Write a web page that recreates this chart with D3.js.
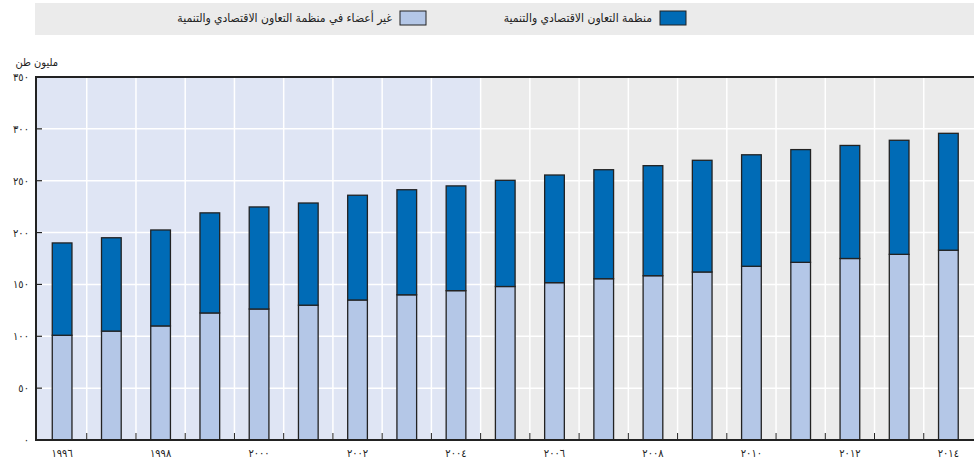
<!DOCTYPE html>
<html>
<head>
<meta charset="utf-8">
<script src="https://cdn.jsdelivr.net/npm/d3@7"></script>
<style>
  body { margin: 0; background: #fff; }
  svg { display: block; font-family: "DejaVu Sans Condensed", "DejaVu Sans", sans-serif; }
</style>
</head>
<body>
<svg id="chart" width="974" height="459"></svg>
<script>
// categories
const years = [1996, 1997, 1998, 1999, 2000, 2001, 2002, 2003, 2004, 2005,
               2006, 2007, 2008, 2009, 2010, 2011, 2012, 2013, 2014];
// non-OECD (lower segment), million tonnes
const nonOecd = [101, 105, 110, 122.5, 126.3, 130, 135, 140, 144, 148,
                 151.7, 155.5, 158.4, 162, 167.5, 171.3, 175, 179, 183];
// OECD (upper segment), million tonnes
const oecd = [89, 90, 92.5, 96.5, 98.4, 98.5, 101, 101.3, 101, 102.4,
              103.8, 105.1, 106.1, 107.7, 107.5, 108.7, 109, 110, 112.7];
const yTicks = [0, 50, 100, 150, 200, 250, 300, 350];
const labelYears = [1996, 1998, 2000, 2002, 2004, 2006, 2008, 2010, 2012, 2014];
const shadedYears = [1996, 2004];

const seriesNames = ["منظمة التعاون الاقتصادي والتنمية", "غير أعضاء في منظمة التعاون الاقتصادي والتنمية"];
const unitLabel = "مليون طن";

const arabicDigits = "٠١٢٣٤٥٦٧٨٩";
const toArabic = s => String(s).replace(/[0-9]/g, c => arabicDigits[+c]);

const svg = d3.select("#chart");
const margin = {left: 36, right: 0, top: 77, bottom: 440};

const x = d3.scaleBand()
    .domain(years)
    .range([37.5, 973])
    .paddingInner(0.6)
    .paddingOuter(0.3);

const y = d3.scaleLinear()
    .domain([0, 350])
    .range([440, 77]);

const step = x.step();
const bandStart = d => x(d) - (step - x.bandwidth()) / 2;

// background panels
svg.append("rect")
    .attr("x", margin.left).attr("y", 77)
    .attr("width", 974 - margin.left).attr("height", 440 - 77)
    .attr("fill", "#ebebeb");
svg.append("rect")
    .attr("x", margin.left).attr("y", 77)
    .attr("width", bandStart(shadedYears[1]) + step - margin.left)
    .attr("height", 440 - 77)
    .attr("fill", "#dfe5f4");

// grid
svg.append("g").selectAll("line")
    .data(yTicks.slice(1))
    .enter().append("line")
    .attr("x1", margin.left).attr("x2", 974)
    .attr("y1", d => y(d)).attr("y2", d => y(d))
    .attr("stroke", "#fff").attr("stroke-width", 1.5);
svg.append("g").selectAll("line")
    .data(years.slice(1))
    .enter().append("line")
    .attr("x1", d => bandStart(d)).attr("x2", d => bandStart(d))
    .attr("y1", 77).attr("y2", 440)
    .attr("stroke", "#fff").attr("stroke-width", 1.5);

// bars
const stacked = years.map((yr, i) => ({year: yr, low: nonOecd[i], high: oecd[i]}));
const bars = svg.append("g");
bars.selectAll(".low")
    .data(stacked)
    .enter().append("rect")
    .attr("class", "low")
    .attr("x", d => x(d.year))
    .attr("width", x.bandwidth())
    .attr("y", d => y(d.low))
    .attr("height", d => y(0) - y(d.low))
    .attr("fill", "#b4c7e7")
    .attr("stroke", "#222").attr("stroke-width", 1.3);
bars.selectAll(".high")
    .data(stacked)
    .enter().append("rect")
    .attr("class", "high")
    .attr("x", d => x(d.year))
    .attr("width", x.bandwidth())
    .attr("y", d => y(d.low + d.high))
    .attr("height", d => y(d.low) - y(d.low + d.high))
    .attr("fill", "#006bb6")
    .attr("stroke", "#222").attr("stroke-width", 1.3);

// axes frame
svg.append("line")
    .attr("x1", margin.left).attr("x2", 974)
    .attr("y1", 77).attr("y2", 77)
    .attr("stroke", "#222").attr("stroke-width", 2);
svg.append("line")
    .attr("x1", margin.left - 1).attr("x2", 974)
    .attr("y1", 440).attr("y2", 440)
    .attr("stroke", "#222").attr("stroke-width", 2);
svg.append("line")
    .attr("x1", margin.left).attr("x2", margin.left)
    .attr("y1", 76).attr("y2", 441)
    .attr("stroke", "#222").attr("stroke-width", 2);

// y ticks + labels
const yAxis = svg.append("g");
yAxis.selectAll("line")
    .data(yTicks.slice(1, -1))
    .enter().append("line")
    .attr("x1", margin.left).attr("x2", margin.left + 6)
    .attr("y1", d => y(d)).attr("y2", d => y(d))
    .attr("stroke", "#222").attr("stroke-width", 1.2);
yAxis.selectAll("text")
    .data(yTicks)
    .enter().append("text")
    .attr("x", 29)
    .attr("y", d => y(d) + 4)
    .attr("text-anchor", "end")
    .attr("font-size", 11)
    .attr("fill", "#222")
    .text(d => toArabic(d));

// x ticks + labels
const xAxis = svg.append("g");
xAxis.selectAll("line")
    .data(years.slice(1))
    .enter().append("line")
    .attr("x1", d => bandStart(d)).attr("x2", d => bandStart(d))
    .attr("y1", 440).attr("y2", 433)
    .attr("stroke", "#222").attr("stroke-width", 1);
xAxis.selectAll("text")
    .data(labelYears)
    .enter().append("text")
    .attr("x", d => x(d) + x.bandwidth() / 2)
    .attr("y", 457)
    .attr("text-anchor", "middle")
    .attr("font-size", 11)
    .attr("fill", "#222")
    .text(d => toArabic(d));

// unit label
svg.append("text")
    .attr("x", 58).attr("y", 66)
    .attr("text-anchor", "end")
    .attr("font-size", 11)
    .attr("fill", "#222")
    .text(unitLabel);

// legend
svg.append("rect")
    .attr("x", 35).attr("y", 3)
    .attr("width", 974 - 35).attr("height", 32)
    .attr("fill", "#ebebeb");
const legendItems = [
    {name: seriesNames[0], color: "#006bb6", sx: 660},
    {name: seriesNames[1], color: "#b4c7e7", sx: 400}
];
const leg = svg.append("g").selectAll("g")
    .data(legendItems)
    .enter().append("g");
leg.append("rect")
    .attr("x", d => d.sx).attr("y", 11)
    .attr("width", 26).attr("height", 14)
    .attr("fill", d => d.color)
    .attr("stroke", "#222").attr("stroke-width", 1);
leg.append("text")
    .attr("x", d => d.sx - 8).attr("y", 22)
    .attr("text-anchor", "end")
    .attr("font-size", 12)
    .attr("fill", "#222")
    .text(d => d.name);
</script>
</body>
</html>
